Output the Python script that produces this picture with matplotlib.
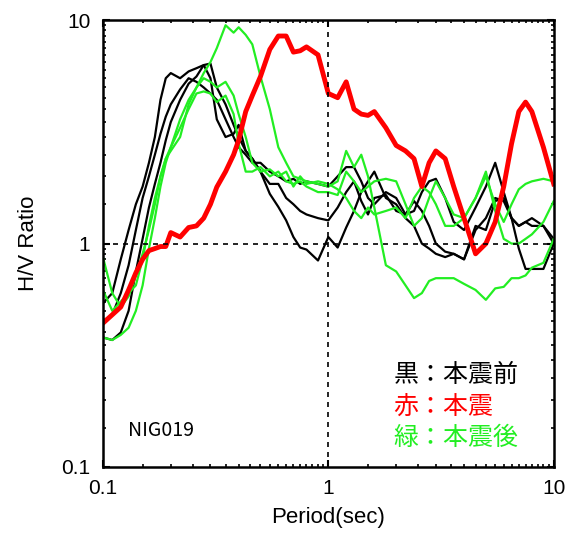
import numpy as np
import matplotlib.pyplot as plt
from matplotlib.ticker import LogLocator, NullFormatter, FixedLocator, FixedFormatter

# periodos (s) comunes a todas las curvas
period = [0.1, 0.11, 0.12, 0.13, 0.14, 0.15, 0.16, 0.17, 0.18, 0.19, 0.2,
          0.22, 0.24, 0.26, 0.28, 0.3, 0.32,
          0.35, 0.38, 0.4, 0.43, 0.46, 0.5,
          0.55, 0.6, 0.65, 0.7, 0.75, 0.8, 0.9,
          1.0, 1.1, 1.2, 1.3, 1.4, 1.5, 1.6,
          1.8, 2.0, 2.2, 2.4, 2.6, 2.8, 3.0,
          3.3, 3.6, 4.0, 4.5, 5.0,
          5.5, 6.0, 6.5, 7.0, 7.5, 8.0, 9.0, 10.0]

# 本震 (rojo)
hv_main = [0.44, 0.48, 0.52, 0.62, 0.74, 0.85, 0.93, 0.95, 0.97, 0.97, 1.12,
           1.07, 1.18, 1.2, 1.3, 1.5, 1.79,
           2.1, 2.5, 2.9, 3.9, 4.6, 5.6,
           7.4, 8.5, 8.5, 7.2, 7.3, 7.6, 7.0,
           4.7, 4.5, 5.3, 4.0, 3.8, 3.75, 3.9,
           3.3, 2.75, 2.6, 2.4, 1.8, 2.3, 2.6,
           2.4, 1.8, 1.3, 0.9, 1.0,
           1.25, 1.8, 2.8, 3.9, 4.3, 3.9, 2.7, 1.85]

# 本震前 (negro)
hv_pre_a = [0.54, 0.6, 0.85, 1.15, 1.5, 1.8, 2.3, 3.0, 4.4, 5.5, 5.8,
            5.5, 5.9, 6.1, 6.3, 5.5, 3.6,
            3.0, 3.1, 3.4, 2.6, 2.4, 2.1,
            1.67, 1.46, 1.27, 1.07, 0.96, 0.94, 0.84,
            1.07, 0.96, 1.18, 1.4, 1.7, 1.9, 2.1,
            1.6, 1.5, 1.3, 1.2, 1.0, 0.95, 0.9,
            0.87, 0.9, 0.85, 1.2, 1.15,
            1.55, 1.6, 1.3, 0.95, 0.77, 0.77, 0.77, 1.0]
hv_pre_b = [0.38, 0.37, 0.4, 0.5, 0.75, 1.05, 1.45, 1.85, 2.3, 2.9, 3.5,
            4.4, 5.2, 5.6, 6.3, 6.4, 5.0,
            4.2, 3.4, 3.0, 2.6, 2.4, 2.1,
            1.85, 1.85, 1.6, 1.5, 1.4, 1.35, 1.3,
            1.27, 1.45, 1.7, 1.9, 1.55, 1.35, 1.6,
            1.65, 1.4, 1.35, 1.55, 1.4, 1.2, 1.0,
            0.92, 0.9, 0.85, 1.15, 1.3,
            1.6, 1.55, 1.3, 1.2, 1.25, 1.2, 1.2, 1.05]
hv_pre_c = [0.45, 0.48, 0.6, 0.8, 1.15, 1.6, 2.0, 2.5, 3.1, 3.7, 4.2,
            4.9, 5.5, 5.3, 5.0, 4.7, 4.4,
            3.6, 3.0, 2.7, 2.5, 2.3, 2.3,
            2.1, 2.0, 1.9, 1.95, 1.85, 1.9, 1.85,
            1.8, 2.0, 2.2, 2.2, 1.9, 1.6, 1.5,
            1.7, 1.6, 1.35, 1.4, 1.7, 1.9, 1.95,
            1.6, 1.25, 1.15, 1.45, 1.8,
            2.3, 1.7, 1.3, 1.2, 1.25, 1.3, 1.2, 1.0]

# 本震後 (verde)
hv_post_a = [0.87, 0.6, 0.52, 0.58, 0.72, 0.9, 1.15, 1.5, 2.0, 2.4, 2.6,
             3.0, 4.2, 5.0, 5.8, 6.5, 7.5,
             9.5, 8.8, 9.3, 8.6, 7.8, 5.6,
             4.0, 2.7, 2.3, 2.0, 1.95, 1.9, 1.85,
             1.8, 1.9, 2.6, 2.2, 2.5, 2.0, 1.45,
             0.8, 0.75, 0.65, 0.57, 0.6, 0.68, 0.7,
             0.7, 0.7, 0.66, 0.62, 0.56,
             0.63, 0.64, 0.7, 0.7, 0.72, 0.78, 0.82, 1.05]
hv_post_b = [0.62, 0.5, 0.55, 0.6, 0.65, 0.85, 1.2, 1.6, 2.0, 2.4, 2.7,
             3.6, 4.4, 5.0, 5.5, 5.3, 5.0,
             5.3, 4.6, 3.8, 3.0, 2.3, 2.1,
             2.15, 2.0, 2.1, 1.8, 2.0, 1.85, 1.9,
             1.85, 1.75, 1.6, 1.4, 1.3, 1.45, 1.35,
             1.4, 1.45, 1.3, 1.6, 1.8, 1.7, 1.5,
             1.2, 1.2, 1.3, 1.6, 2.1,
             1.4, 1.05, 1.0, 1.0, 1.05, 1.1, 1.25, 1.55]
hv_post_c = [0.38, 0.37, 0.39, 0.42, 0.5, 0.65, 0.95, 1.3, 1.8, 2.3, 2.7,
             3.3, 4.0, 4.7, 4.8, 4.7, 4.3,
             4.6, 3.8, 2.8, 2.1, 2.1, 2.2,
             2.0, 2.1, 1.9, 1.85, 1.9, 1.8, 1.7,
             1.7, 1.65, 2.1, 1.9, 1.7, 1.8, 1.9,
             1.95, 1.9, 1.5, 1.2, 1.3, 1.6, 1.9,
             1.6, 1.35, 1.3, 1.6, 2.0,
             1.5, 1.25, 1.5, 1.75, 1.85, 1.9, 1.95, 1.9]

legend_lines = ['黒：本震前', '赤：本震', '緑：本震後']
legend_colors = ['black', 'red', '#22ee22']

plt.rcParams['font.family'] = ['Liberation Sans', 'DejaVu Sans']

fig = plt.figure(figsize=(5.75, 5.33), dpi=100)
ax = fig.add_axes([0.179, 0.124, 0.784, 0.838])

for hv in [hv_pre_a, hv_pre_b, hv_pre_c]:
    ax.plot(period, hv, c='black', lw=1.6)
for hv in [hv_post_a, hv_post_b, hv_post_c]:
    ax.plot(period, hv, c='#22ee22', lw=1.6)
ax.plot(period, hv_main, c='red', lw=3.5)

ax.set_xscale('log')
ax.set_yscale('log')
ax.set_xlim(0.1, 10)
ax.set_ylim(0.1, 10)

ax.axvline(1, c='black', ls=(0, (3, 3)), lw=1.2)
ax.axhline(1, c='black', ls=(0, (3, 3)), lw=1.2)

ax.xaxis.set_major_locator(FixedLocator([0.1, 1, 10]))
ax.xaxis.set_major_formatter(FixedFormatter(['0.1', '1', '10']))
ax.yaxis.set_major_locator(FixedLocator([0.1, 1, 10]))
ax.yaxis.set_major_formatter(FixedFormatter(['0.1', '1', '10']))
for a in (ax.xaxis, ax.yaxis):
    a.set_minor_locator(LogLocator(base=10, subs=np.arange(1, 10, 0.5)))
    a.set_minor_formatter(NullFormatter())
ax.tick_params(which='both', direction='in', top=True, right=True, labelsize=15)
ax.tick_params(which='major', length=5, width=1.5, pad=9)
ax.tick_params(which='minor', length=2.5, width=1.2)
for s in ax.spines.values():
    s.set_linewidth(1.8)

ax.set_xlabel('Period(sec)', fontsize=16, labelpad=6)
ax.set_ylabel('H/V Ratio', fontsize=16, labelpad=16)

ax.text(0.055, 0.07, 'NIG019', transform=ax.transAxes, fontsize=14,
        family=['Noto Sans CJK JP', 'DejaVu Sans'], fontstretch='condensed')

for i, (t, col) in enumerate(zip(legend_lines, legend_colors)):
    ax.text(0.645, 0.205 - i * 0.07, t, transform=ax.transAxes, color=col,
            fontsize=18, family=['Noto Sans CJK JP', 'DejaVu Sans'], va='center')

fig.savefig('out.png', dpi=100)
